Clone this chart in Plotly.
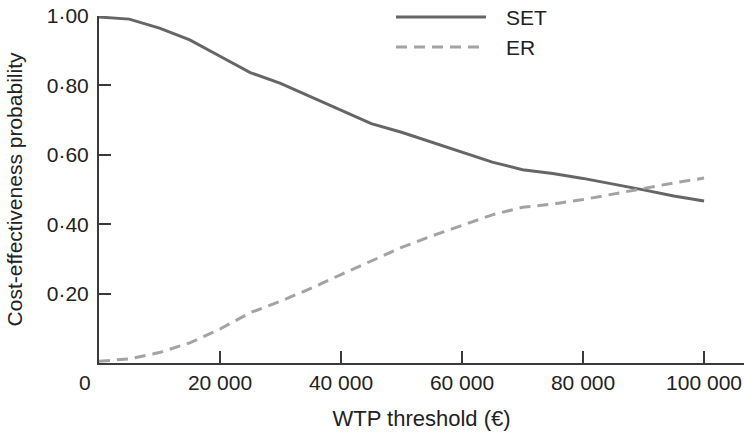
import plotly.graph_objects as go

# Willingness-to-pay thresholds (€) and probability of each strategy being cost-effective
wtp = [0, 5000, 10000, 15000, 20000, 25000, 30000, 35000, 40000, 45000,
       50000, 55000, 60000, 65000, 70000, 75000, 80000, 85000, 90000, 95000, 100000]
set_prob = [0.997, 0.991, 0.965, 0.931, 0.884, 0.837, 0.806, 0.768, 0.728, 0.690,
            0.665, 0.637, 0.609, 0.579, 0.557, 0.546, 0.532, 0.516, 0.499, 0.481, 0.467]
er_prob = [0.005, 0.012, 0.030, 0.058, 0.098, 0.145, 0.178, 0.215, 0.255, 0.295,
           0.333, 0.366, 0.397, 0.427, 0.449, 0.458, 0.471, 0.486, 0.503, 0.519, 0.533]

x_ticks = [20000, 40000, 60000, 80000, 100000]
x_tick_text = ["20 000", "40 000", "60 000", "80 000", "100 000"]
y_ticks = [0.2, 0.4, 0.6, 0.8, 1.0]
y_tick_text = ["0·20", "0·40", "0·60", "0·80", "1·00"]

FONT = "Liberation Sans, Arial, Helvetica, sans-serif"
TEXT = "#222222"
AXIS = "#3a3a3a"
SET_COLOR = "#666666"
ER_COLOR = "#a3a3a3"
DASH = "11px,7px"

# Plot area in pixels: left edge 99, right edge 744, top 16, bottom 363
L, R, T, B = 99, 744, 16, 363


def px_to_paper(xp, yp):
    return (xp - L) / (R - L), (B - yp) / (B - T)


fig = go.Figure()
fig.add_trace(go.Scatter(x=wtp, y=set_prob, mode="lines", name="SET",
                         line=dict(color=SET_COLOR, width=3), cliponaxis=False,
                         showlegend=False))
fig.add_trace(go.Scatter(x=wtp, y=er_prob, mode="lines", name="ER",
                         line=dict(color=ER_COLOR, width=3, dash=DASH), cliponaxis=False,
                         showlegend=False))

fig.update_xaxes(range=[0, 106600], tickvals=x_ticks, ticktext=x_tick_text,
                 ticks="inside", ticklen=12, tickwidth=2, tickcolor=AXIS,
                 showline=True, linecolor=AXIS, linewidth=2, showgrid=False, zeroline=False,
                 tickfont=dict(family=FONT, size=21, color=TEXT),
                 title=dict(text="WTP threshold (€)", font=dict(family=FONT, size=22, color=TEXT),
                            standoff=17))
fig.update_yaxes(range=[0, 1.0], tickvals=y_ticks, ticktext=y_tick_text,
                 ticks="inside", ticklen=12, tickwidth=2, tickcolor=AXIS,
                 showline=True, linecolor=AXIS, linewidth=2, showgrid=False, zeroline=False,
                 ticklabelstandoff=4,
                 tickfont=dict(family=FONT, size=21, color=TEXT),
                 title=dict(text="Cost-effectiveness probability",
                            font=dict(family=FONT, size=21, color=TEXT), standoff=18))

# Origin label sitting just left of the axis corner
ox, oy = px_to_paper(85, 382)
fig.add_annotation(x=ox, y=oy, xref="paper", yref="paper", text="0", showarrow=False,
                   xanchor="center", yanchor="middle",
                   font=dict(family=FONT, size=21, color=TEXT))

# Legend drawn as line samples with labels
legend_items = [("SET", SET_COLOR, "solid", 17), ("ER", ER_COLOR, DASH, 47)]
for label, color, dash, ypix in legend_items:
    x0, yp = px_to_paper(396, ypix)
    x1, _ = px_to_paper(486, ypix)
    xt, _ = px_to_paper(504, ypix)
    fig.add_shape(type="line", xref="paper", yref="paper",
                  x0=x0, x1=x1, y0=yp, y1=yp,
                  line=dict(color=color, width=3, dash=dash))
    fig.add_annotation(xref="paper", yref="paper", x=xt, y=yp,
                       text=label, showarrow=False, xanchor="left", yanchor="middle",
                       font=dict(family=FONT, size=21, color=TEXT))

fig.update_layout(width=744, height=433, margin=dict(l=L, r=744 - R, t=T, b=433 - B),
                  paper_bgcolor="white", plot_bgcolor="white",
                  font=dict(family=FONT, color=TEXT))

fig.write_html("out.html")
